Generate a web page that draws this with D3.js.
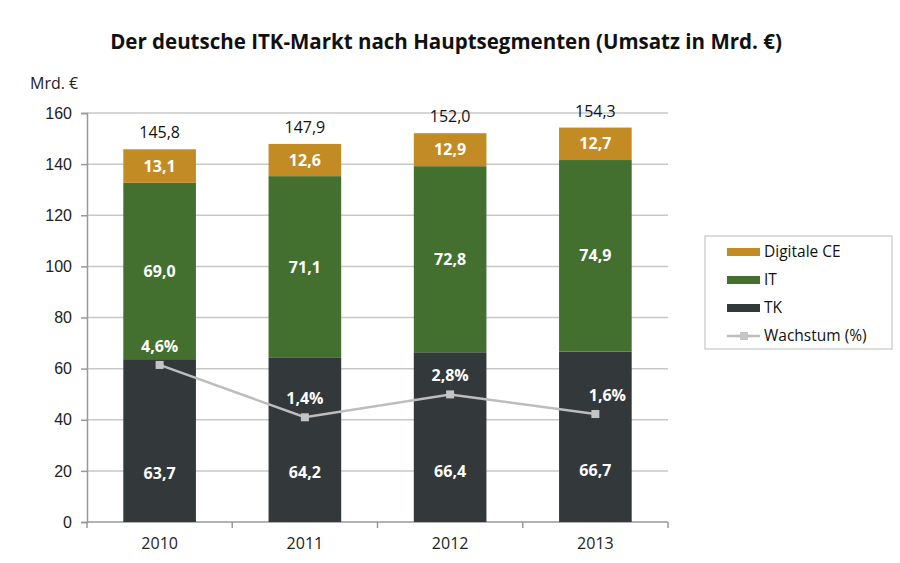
<!DOCTYPE html>
<html>
<head>
<meta charset="utf-8">
<script src="https://cdn.jsdelivr.net/npm/d3@7"></script>
<style>
  body { margin: 0; background: #fff; }
  svg { font-family: "Open Sans", "DejaVu Sans", sans-serif; }
</style>
</head>
<body>
<svg width="900" height="563"></svg>
<script>
const width = 900, height = 563;
const svg = d3.select("svg");

const years = ["2010", "2011", "2012", "2013"];
const tk = [63.7, 64.2, 66.4, 66.7];
const it = [69.0, 71.1, 72.8, 74.9];
const ce = [13.1, 12.6, 12.9, 12.7];
const totals = [145.8, 147.9, 152.0, 154.3];
const growth = [4.6, 1.4, 2.8, 1.6];
const yTicks = [0, 20, 40, 60, 80, 100, 120, 140, 160];

const seriesNames = ["TK", "IT", "Digitale CE"];
const colors = { "TK": "#33383b", "IT": "#43702e", "Digitale CE": "#c38b24" };
const fmt = v => d3.format(".1f")(v).replace(".", ",");

const margin = { left: 87, right: 232, top: 113, bottom: 41 };
const x = d3.scaleBand().domain(years).range([margin.left, width - margin.right]).paddingInner(0.5).paddingOuter(0.25);
const y = d3.scaleLinear().domain([0, 160]).range([height - margin.bottom, margin.top]);
const y2 = d3.scaleLinear().domain([-5, 20]).range([height - margin.bottom, margin.top]);

const table = years.map((yr, i) => ({ year: yr, "TK": tk[i], "IT": it[i], "Digitale CE": ce[i] }));
const stacked = d3.stack().keys(seriesNames)(table);

// title
svg.append("text").attr("x", 446).attr("y", 49).attr("text-anchor", "middle")
  .style("font-size", "20.5px").style("font-weight", "700").attr("fill", "#111")
  .text("Der deutsche ITK-Markt nach Hauptsegmenten (Umsatz in Mrd. €)");
svg.append("text").attr("x", 30).attr("y", 89).style("font-size", "16px").attr("fill", "#222").text("Mrd. €");

// grid
svg.append("g").selectAll("line").data(yTicks.filter(d => d > 0)).join("line")
  .attr("x1", margin.left).attr("x2", width - margin.right)
  .attr("y1", d => y(d)).attr("y2", d => y(d))
  .attr("stroke", "#c8c8c8").attr("stroke-width", 1.5);

// y axis
const yAxis = svg.append("g").attr("transform", `translate(${margin.left},0)`)
  .call(d3.axisLeft(y).tickValues(yTicks).tickSize(6).tickPadding(9));
yAxis.select(".domain").attr("stroke", "#999").attr("stroke-width", 1.5);
yAxis.selectAll(".tick line").attr("stroke", "#999").attr("stroke-width", 1.5);
yAxis.selectAll("text").style("font-size", "16px").attr("fill", "#222");

// x axis with ticks at category boundaries
const xAxisG = svg.append("g").attr("transform", `translate(0,${y(0)})`);
xAxisG.append("line").attr("x1", margin.left).attr("x2", width - margin.right)
  .attr("stroke", "#999").attr("stroke-width", 1.5);
const bounds = d3.range(years.length + 1).map(i => margin.left + i * (width - margin.left - margin.right) / years.length);
xAxisG.selectAll(".bt").data(bounds).join("line").attr("class", "bt")
  .attr("x1", d => d).attr("x2", d => d).attr("y1", 0).attr("y2", 6)
  .attr("stroke", "#999").attr("stroke-width", 1.5);
xAxisG.selectAll("text").data(years).join("text")
  .attr("x", d => x(d) + x.bandwidth() / 2).attr("y", 27)
  .attr("text-anchor", "middle").style("font-size", "16px").attr("fill", "#222").text(d => d);

// bars
const layers = svg.append("g").selectAll("g").data(stacked).join("g")
  .attr("fill", d => colors[d.key]);
layers.selectAll("rect").data(d => d).join("rect")
  .attr("x", d => x(d.data.year)).attr("width", x.bandwidth())
  .attr("y", d => y(d[1])).attr("height", d => y(d[0]) - y(d[1]));

// segment labels
stacked.forEach(layer => {
  svg.append("g").selectAll("text").data(layer).join("text")
    .attr("x", d => x(d.data.year) + x.bandwidth() / 2)
    .attr("y", d => layer.key === "TK" ? y(d[0] + (d[1] - d[0]) * 0.3) : y((d[0] + d[1]) / 2))
    .attr("dy", "0.35em").attr("text-anchor", "middle")
    .style("font-size", "16px").style("font-weight", "700").attr("fill", "#fff")
    .text(d => fmt(d.data[layer.key]));
});

// totals
svg.append("g").selectAll("text").data(totals).join("text")
  .attr("x", (d, i) => x(years[i]) + x.bandwidth() / 2)
  .attr("y", d => y(d) - 11).attr("text-anchor", "middle")
  .style("font-size", "16px").attr("fill", "#111").text(d => fmt(d));

// growth line
const gx = (d, i) => x(years[i]) + x.bandwidth() / 2;
svg.append("path").datum(growth)
  .attr("d", d3.line().x(gx).y(d => y2(d)))
  .attr("fill", "none").attr("stroke", "#bdbdbd").attr("stroke-width", 2.5);
svg.append("g").selectAll("rect").data(growth).join("rect")
  .attr("x", (d, i) => gx(d, i) - 4).attr("y", d => y2(d) - 4)
  .attr("width", 8).attr("height", 8).attr("fill", "#c4c4c4");
svg.append("g").selectAll("text").data(growth).join("text")
  .attr("x", (d, i) => gx(d, i) + (i === growth.length - 1 ? 12 : 0))
  .attr("y", d => y2(d) - 19).attr("dy", "0.35em")
  .attr("text-anchor", "middle").style("font-size", "16px").style("font-weight", "700")
  .attr("fill", "#fff").text(d => fmt(d) + "%");

// legend
const legendItems = ["Digitale CE", "IT", "TK", "Wachstum (%)"];
const lg = svg.append("g").attr("transform", "translate(705,236)");
lg.append("rect").attr("width", 187).attr("height", 113).attr("fill", "#fff")
  .attr("stroke", "#bbb").attr("stroke-width", 1);
const li = lg.selectAll("g").data(legendItems).join("g")
  .attr("transform", (d, i) => `translate(22,${16 + i * 28})`);
li.filter(d => colors[d]).append("rect").attr("x", 0).attr("y", -4).attr("width", 33).attr("height", 8)
  .attr("fill", d => colors[d]);
li.filter(d => !colors[d]).append("line").attr("x1", 0).attr("x2", 33)
  .attr("stroke", "#bdbdbd").attr("stroke-width", 2.5);
li.filter(d => !colors[d]).append("rect").attr("x", 13).attr("y", -4).attr("width", 8).attr("height", 8).attr("fill", "#c4c4c4");
li.append("text").attr("x", 37).attr("dy", "0.35em").style("font-size", "15.5px").attr("fill", "#111").text(d => d);
</script>
</body>
</html>
